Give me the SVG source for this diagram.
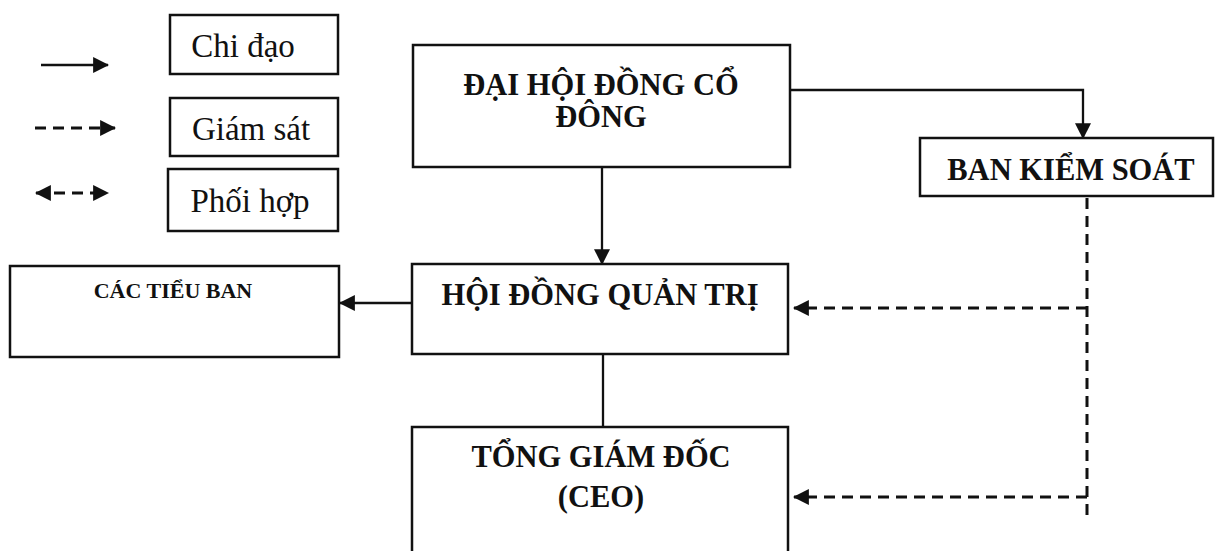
<svg xmlns="http://www.w3.org/2000/svg" width="1215" height="551" viewBox="0 0 1215 551">
<defs>
<style>
.box{fill:#fff;stroke:#111;stroke-width:2.5}
.t{font-family:"Liberation Serif","Times New Roman",serif;fill:#111;text-anchor:middle}
.b{font-weight:bold}
.ln{fill:none;stroke:#111;stroke-width:2.3}
.ds{fill:none;stroke:#111;stroke-width:3;stroke-dasharray:11 7}
</style>
<marker id="ah2" viewBox="0 0 14 14" refX="13" refY="7" markerWidth="16" markerHeight="16" markerUnits="userSpaceOnUse" orient="auto-start-reverse">
<path d="M0,0 L14,7 L0,14 z" fill="#111"/>
</marker>
</defs>
<rect width="1215" height="551" fill="#fff"/>
<g id="legend">
<line class="ln" x1="41" y1="65" x2="108" y2="65" stroke-width="2.8" marker-end="url(#ah2)"/>
<line class="ds" x1="35" y1="128" x2="115" y2="128" stroke-dasharray="9 6" marker-end="url(#ah2)"/>
<line class="ds" x1="36" y1="193" x2="108" y2="193" stroke-dasharray="7 6" marker-start="url(#ah2)" marker-end="url(#ah2)"/>
<g id="leg-chidao"><rect class="box" x="170" y="15" width="168" height="59"/><text class="t" x="243" y="57" font-size="33">Chi đạo</text></g>
<g id="leg-giamsat"><rect class="box" x="170" y="98" width="168" height="58"/><text class="t" x="251" y="140" font-size="33">Giám sát</text></g>
<g id="leg-phoihop"><rect class="box" x="168" y="169" width="170" height="62"/><text class="t" x="250" y="212" font-size="33">Phối hợp</text></g>
</g>
<g id="connectors">
<polyline class="ln" points="790,90 1083,90 1083,138" marker-end="url(#ah2)"/>
<line class="ln" x1="602" y1="167" x2="602" y2="264" marker-end="url(#ah2)"/>
<line class="ln" x1="603" y1="354" x2="603" y2="427"/>
<line class="ln" x1="412" y1="303" x2="340" y2="303" marker-end="url(#ah2)"/>
<line class="ds" x1="1087" y1="198" x2="1087" y2="517"/>
<line class="ds" x1="1087" y1="308" x2="794" y2="308" marker-end="url(#ah2)"/>
<line class="ds" x1="1087" y1="497" x2="794" y2="497" marker-end="url(#ah2)"/>
</g>
<g id="dhdcd"><rect class="box" x="413" y="45" width="377" height="122"/><text class="t b" x="601" y="95" font-size="30.5">ĐẠI HỘI ĐỒNG CỔ</text><text class="t b" x="601" y="127" font-size="30.5">ĐÔNG</text></g>
<g id="bks"><rect class="box" x="920" y="138" width="293" height="58"/><text class="t b" x="1071" y="180" font-size="30.5">BAN KIỂM SOÁT</text></g>
<g id="hdqt"><rect class="box" x="412" y="264" width="376" height="90"/><text class="t b" x="600" y="305" font-size="30.5">HỘI ĐỒNG QUẢN TRỊ</text></g>
<g id="tieuban"><rect class="box" x="10" y="266" width="329" height="91"/><text class="t b" x="173" y="298" font-size="22">CÁC TIỂU BAN</text></g>
<g id="tgd"><rect class="box" x="412" y="427" width="376" height="140"/><text class="t b" x="601" y="467" font-size="30.5">TỔNG GIÁM ĐỐC</text><text class="t b" x="601" y="507" font-size="30.5">(CEO)</text></g>
</svg>
